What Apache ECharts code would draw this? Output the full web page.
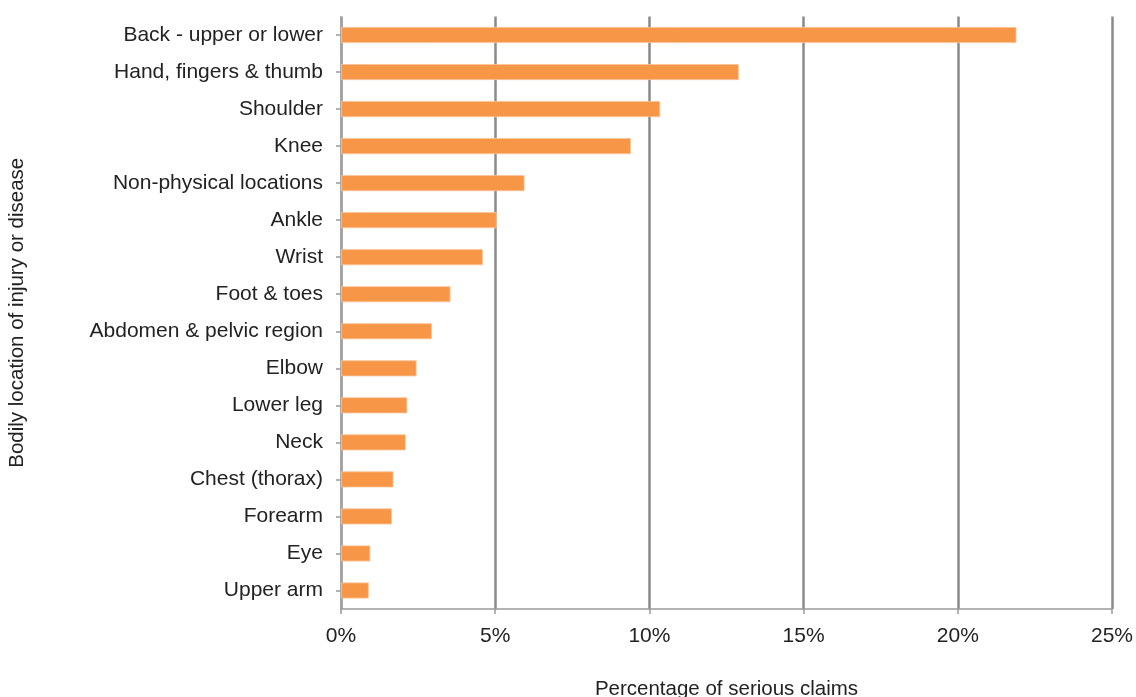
<!DOCTYPE html>
<html>
<head>
<meta charset="utf-8">
<script src="https://cdn.jsdelivr.net/npm/echarts@6/dist/echarts.min.js"></script>
<style>
  html, body { margin: 0; padding: 0; background: #ffffff; }
  #chart { width: 1136px; height: 697px; }
</style>
</head>
<body>
<div id="chart"></div>
<script>
// Bodily locations, listed top to bottom
const categories = [
  'Back - upper or lower',
  'Hand, fingers & thumb',
  'Shoulder',
  'Knee',
  'Non-physical locations',
  'Ankle',
  'Wrist',
  'Foot & toes',
  'Abdomen & pelvic region',
  'Elbow',
  'Lower leg',
  'Neck',
  'Chest (thorax)',
  'Forearm',
  'Eye',
  'Upper arm'
];

// Share of serious claims, percent
const shares = [21.9, 12.9, 10.35, 9.4, 5.95, 5.05, 4.6, 3.55, 2.95, 2.45, 2.15, 2.1, 1.7, 1.65, 0.95, 0.9];

const xTicks = [0, 5, 10, 15, 20, 25];

const font = 'Liberation Sans, Arial, Helvetica, sans-serif';
const chart = echarts.init(document.getElementById('chart'));

chart.setOption({
  animation: false,
  grid: { left: 341, right: 24, top: 16.5, bottom: 88, containLabel: false, outerBoundsMode: 'none' },
  xAxis: {
    type: 'value',
    min: xTicks[0],
    max: xTicks[xTicks.length - 1],
    interval: 5,
    name: 'Percentage of serious claims',
    nameLocation: 'middle',
    nameGap: 70,
    nameTextStyle: { fontFamily: font, fontSize: 20.5, color: '#222222' },
    axisLine: { show: true, lineStyle: { color: '#9a9a9a', width: 1.5 } },
    axisTick: { show: true, length: 5, lineStyle: { color: '#9a9a9a', width: 1.5 } },
    axisLabel: {
      fontFamily: font, fontSize: 21, color: '#222222', margin: 17,
      formatter: v => v + '%'
    },
    splitLine: { show: true, lineStyle: { color: '#8a8a8a', width: 2.5 } }
  },
  yAxis: {
    type: 'category',
    inverse: true,
    data: categories,
    name: 'Bodily location of injury or disease',
    nameLocation: 'middle',
    nameGap: 313,
    nameRotate: 90,
    nameTextStyle: { fontFamily: font, fontSize: 20.5, color: '#222222' },
    axisLine: { show: true, lineStyle: { color: '#a8a8a8', width: 1.5 } },
    axisTick: { show: true, length: 5, alignWithLabel: true, lineStyle: { color: '#9a9a9a', width: 1.5 } },
    axisLabel: { fontFamily: font, fontSize: 21, color: '#222222', margin: 18 },
    splitLine: { show: false }
  },
  series: [{
    type: 'bar',
    data: shares,
    barWidth: 16,
    itemStyle: { color: '#f79646', borderColor: '#fbc59a', borderWidth: 0.8 },
    silent: true
  }]
});
</script>
</body>
</html>
